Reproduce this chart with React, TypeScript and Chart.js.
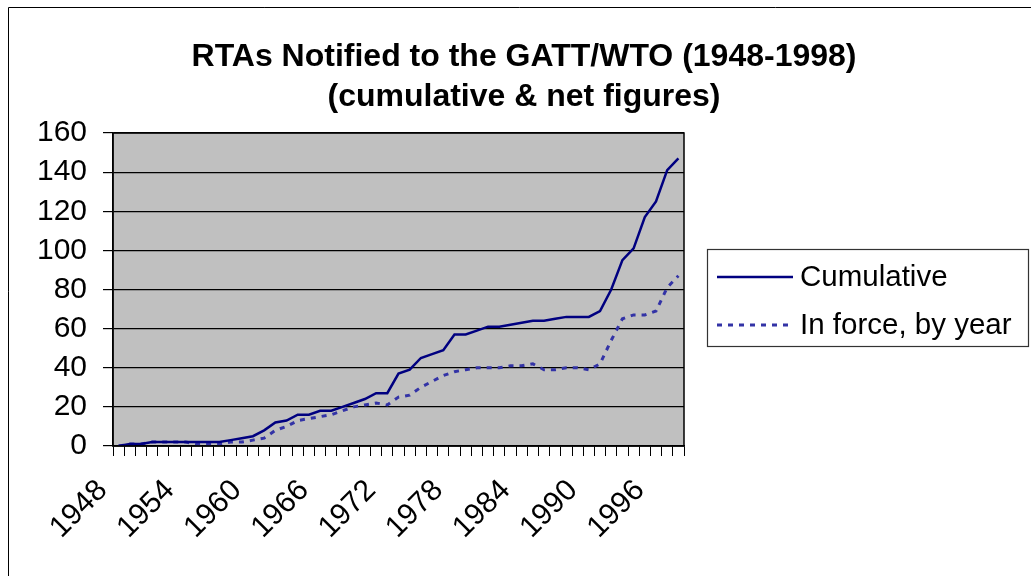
import React, { useEffect, useRef } from 'react';
import { Chart, registerables } from 'chart.js';

Chart.register(...registerables);

const years = [
  '1948', '1949', '1950', '1951', '1952', '1953', '1954', '1955', '1956', '1957',
  '1958', '1959', '1960', '1961', '1962', '1963', '1964', '1965', '1966', '1967',
  '1968', '1969', '1970', '1971', '1972', '1973', '1974', '1975', '1976', '1977',
  '1978', '1979', '1980', '1981', '1982', '1983', '1984', '1985', '1986', '1987',
  '1988', '1989', '1990', '1991', '1992', '1993', '1994', '1995', '1996', '1997',
  '1998',
];

const cumulative = [
  0, 1, 1, 2, 2, 2, 2, 2, 2, 2,
  3, 4, 5, 8, 12, 13, 16, 16, 18, 18,
  20, 22, 24, 27, 27, 37, 39, 45, 47, 49,
  57, 57, 59, 61, 61, 62, 63, 64, 64, 65,
  66, 66, 66, 69, 80, 95, 101, 117, 125, 141,
  147,
];

const inForce = [
  0, 1, 1, 2, 2, 2, 2, 1, 1, 1,
  2, 2, 3, 4, 8, 10, 13, 14, 15, 16,
  18, 20, 21, 22, 21, 25, 26, 30, 33, 36,
  38, 39, 40, 40, 40, 41, 41, 42, 39, 39,
  40, 40, 39, 42, 54, 65, 67, 67, 69, 81,
  87,
];

const labeledYears = ['1948', '1954', '1960', '1966', '1972', '1978', '1984', '1990', '1996'];
const seriesNames = ['Cumulative', 'In force, by year'];
const titleLines = ['RTAs Notified to the GATT/WTO (1948-1998)', '(cumulative & net figures)'];

const FONT = '"Liberation Sans", Arial, Helvetica, sans-serif';

const framePlugin = {
  id: 'framePlugin',
  beforeDraw(chart: any) {
    const { ctx, chartArea, width, height } = chart;
    ctx.save();
    ctx.fillStyle = '#ffffff';
    ctx.fillRect(0, 0, width, height);
    ctx.strokeStyle = '#000000';
    ctx.lineWidth = 1;
    ctx.beginPath();
    ctx.moveTo(8.5, height);
    ctx.lineTo(8.5, 7.5);
    ctx.lineTo(width, 7.5);
    ctx.stroke();
    ctx.fillStyle = '#C0C0C0';
    ctx.fillRect(chartArea.left, chartArea.top, chartArea.right - chartArea.left, chartArea.bottom - chartArea.top);
    ctx.restore();
  },
  afterDatasetsDraw(chart: any) {
    const { ctx, chartArea } = chart;
    ctx.save();
    ctx.strokeStyle = '#000000';
    ctx.lineWidth = 1.5;
    ctx.strokeRect(chartArea.left, chartArea.top, chartArea.right - chartArea.left, chartArea.bottom - chartArea.top);
    ctx.restore();
  },
};

const wideTitlePlugin = {
  id: 'wideTitle',
  afterDraw(chart: any, _args: any, opts: any) {
    const { ctx } = chart;
    ctx.save();
    ctx.fillStyle = '#000000';
    ctx.font = `bold ${opts.size}px ${FONT}`;
    ctx.textAlign = 'center';
    ctx.textBaseline = 'middle';
    opts.lines.forEach((line: string, i: number) => {
      ctx.fillText(line, opts.cx, opts.firstY + i * opts.gap);
    });
    ctx.restore();
  },
};

const boxLegendPlugin = {
  id: 'boxLegend',
  afterDraw(chart: any, _args: any, opts: any) {
    const { ctx } = chart;
    const x = opts.x, y = opts.y, w = opts.w, h = opts.h;
    ctx.save();
    ctx.fillStyle = '#ffffff';
    ctx.fillRect(x, y, w, h);
    ctx.strokeStyle = '#333333';
    ctx.lineWidth = 1.2;
    ctx.strokeRect(x + 0.5, y + 0.5, w, h);
    chart.data.datasets.forEach((ds: any, i: number) => {
      const cy = y + opts.rowTop + i * opts.rowGap;
      ctx.strokeStyle = ds.borderColor;
      ctx.lineWidth = ds.borderWidth;
      ctx.setLineDash(ds.borderDash || []);
      ctx.beginPath();
      ctx.moveTo(x + 10, cy);
      ctx.lineTo(x + 86, cy);
      ctx.stroke();
      ctx.setLineDash([]);
      ctx.fillStyle = '#000000';
      ctx.font = `29.5px ${FONT}`;
      ctx.textBaseline = 'middle';
      ctx.textAlign = 'left';
      ctx.fillText(ds.label, x + 93, cy + 1);
    });
    ctx.restore();
  },
};

export default function App() {
  const canvasRef = useRef<HTMLCanvasElement | null>(null);

  useEffect(() => {
    const canvas = canvasRef.current;
    if (!canvas) return;
    const chart = new Chart(canvas, {
      type: 'line',
      data: {
        labels: years,
        datasets: [
          {
            label: seriesNames[0],
            data: cumulative,
            borderColor: '#000080',
            backgroundColor: '#000080',
            borderWidth: 2.5,
            pointRadius: 0,
            tension: 0,
            fill: false,
          },
          {
            label: seriesNames[1],
            data: inForce,
            borderColor: '#3333A6',
            backgroundColor: '#3333A6',
            borderWidth: 3,
            borderDash: [5, 6],
            pointRadius: 0,
            tension: 0,
            fill: false,
          },
        ],
      },
      options: {
        responsive: false,
        animation: false,
        events: [],
        layout: { padding: { left: 0, right: 347, top: 133, bottom: 0 } },
        plugins: {
          legend: { display: false },
          tooltip: { enabled: false },
          title: { display: false },
          wideTitle: { lines: titleLines, size: 32, cx: 524, firstY: 57, gap: 40 },
          boxLegend: { x: 707, y: 249, w: 321, h: 97, rowTop: 28, rowGap: 48 },
        } as any,
        scales: {
          x: {
            type: 'category',
            offset: true,
            grid: {
              offset: true,
              drawOnChartArea: false,
              drawTicks: true,
              tickLength: 10,
              color: '#000000',
              lineWidth: 1,
            },
            border: { display: true, color: '#000000', width: 1.5 },
            ticks: {
              autoSkip: false,
              maxRotation: 45,
              minRotation: 45,
              padding: 17,
              labelOffset: -16,
              color: '#000000',
              font: { family: FONT, size: 30 },
              callback: function (this: any, value: any, index: number) {
                const lab = years[index];
                return labeledYears.includes(lab) ? lab : '';
              },
            },
            afterFit: (scale: any) => {
              scale.height = 130;
            },
          },
          y: {
            min: 0,
            max: 160,
            ticks: {
              stepSize: 20,
              padding: 16,
              color: '#000000',
              font: { family: FONT, size: 30 },
            },
            grid: {
              color: '#000000',
              lineWidth: 1.2,
              drawTicks: true,
              tickLength: 10,
            },
            border: { display: true, color: '#000000', width: 1.5 },
            afterFit: (scale: any) => {
              scale.width = 113;
            },
          },
        },
      },
      plugins: [framePlugin, wideTitlePlugin, boxLegendPlugin],
    });
    return () => chart.destroy();
  }, []);

  return (
    <div style={{ position: 'absolute', left: 0, top: 0, width: 1031, height: 576 }}>
      <canvas ref={canvasRef} width={1031} height={576} />
    </div>
  );
}
